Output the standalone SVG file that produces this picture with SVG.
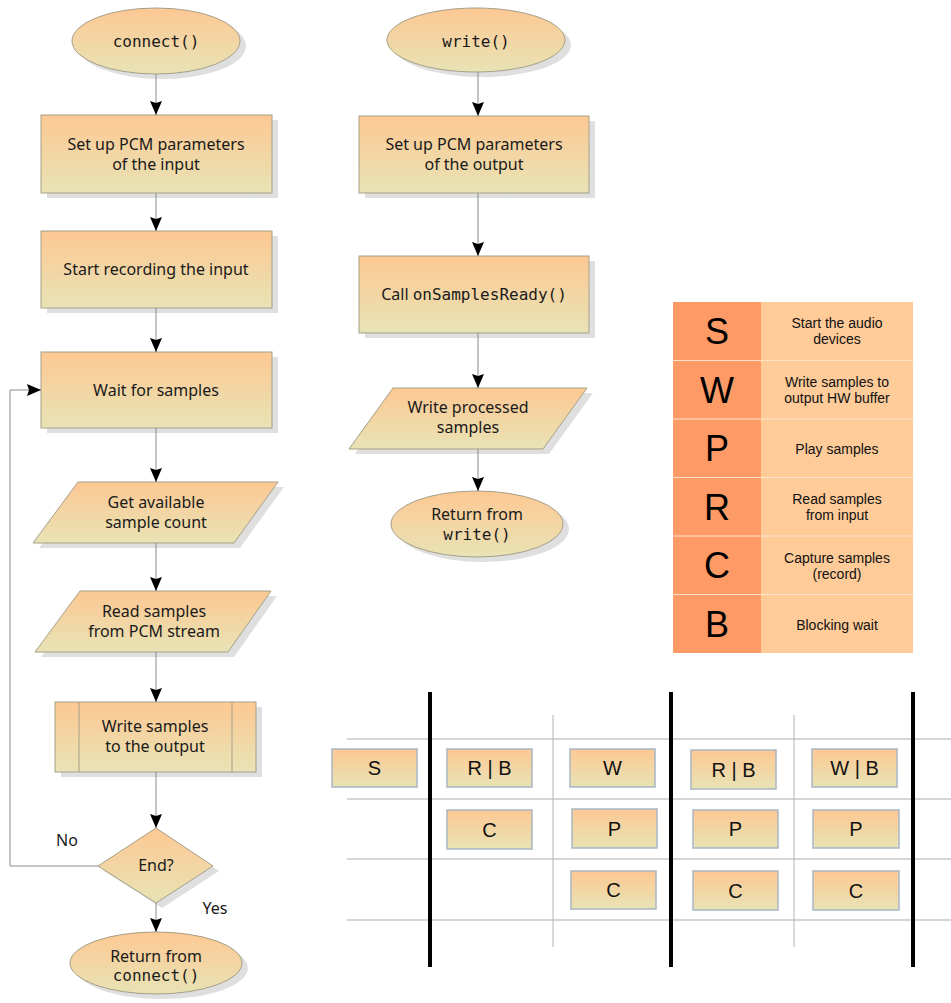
<svg xmlns="http://www.w3.org/2000/svg" width="951" height="1003" viewBox="0 0 951 1003">
  <defs>
    <linearGradient id="fill" x1="0" y1="0" x2="0" y2="1">
      <stop offset="0" stop-color="#fdc893"/>
      <stop offset="1" stop-color="#e8e3b5"/>
    </linearGradient>
    <marker id="arrow" viewBox="0 0 14 12" refX="14" refY="6" markerWidth="14" markerHeight="12" markerUnits="userSpaceOnUse" orient="auto">
      <path d="M0,0 L14,6 L0,12 L2,6 Z" fill="#000"/>
    </marker>
    <style>
      .shape { fill: url(#fill); stroke: #a59f88; stroke-width: 1; }
      .shadow { fill: #d4d4d4; opacity: 0.75; }
      .link { fill: none; stroke: #8a8a8a; stroke-width: 1; marker-end: url(#arrow); }
      .lbl { font-family: "Noto Sans", "Open Sans", sans-serif; font-size: 16px; fill: #1a1a1a; text-anchor: middle; }
      .mono { font-family: "DejaVu Sans Mono", "Liberation Mono", monospace; font-size: 16px; }
      .big { font-family: "Liberation Sans", Arial, sans-serif; font-size: 36px; fill: #000; text-anchor: middle; }
      .desc { font-family: "Liberation Sans", Arial, sans-serif; font-size: 14px; fill: #111; text-anchor: middle; }
      .slot { fill: url(#fill); stroke: #a9b6c4; stroke-width: 1.5; }
      .slotTxt { font-family: "Liberation Sans", Arial, sans-serif; font-size: 20px; fill: #111; text-anchor: middle; }
      .bar { stroke: #000; stroke-width: 4; }
      .grid { stroke: #c8c8c8; stroke-width: 1.5; }
      .vgrid { stroke: #b4b4b4; stroke-width: 1; }
    </style>
  </defs>

  <!-- connect() flow -->
  <g id="connect-start">
    <ellipse class="shadow" cx="162" cy="46" rx="84" ry="33"/>
    <ellipse class="shape" cx="156" cy="41" rx="84" ry="33"/>
    <text class="lbl mono" x="156" y="47">connect()</text>
  </g>
  <g id="setup-input">
    <rect class="shadow" x="47" y="120" width="231" height="78"/>
    <rect class="shape" x="41" y="115" width="231" height="78"/>
    <text class="lbl" x="156" y="150">Set up PCM parameters</text>
    <text class="lbl" x="156" y="170">of the input</text>
  </g>
  <g id="start-recording">
    <rect class="shadow" x="47" y="236" width="231" height="77"/>
    <rect class="shape" x="41" y="231" width="231" height="77"/>
    <text class="lbl" x="156" y="275">Start recording the input</text>
  </g>
  <g id="wait-samples">
    <rect class="shadow" x="47" y="357" width="231" height="76"/>
    <rect class="shape" x="41" y="352" width="231" height="76"/>
    <text class="lbl" x="156" y="396">Wait for samples</text>
  </g>
  <g id="get-count">
    <polygon class="shadow" points="84,487 284,487 240,548 39,548"/>
    <polygon class="shape" points="78,482 278,482 234,543 33,543"/>
    <text class="lbl" x="156" y="508">Get available</text>
    <text class="lbl" x="156" y="528">sample count</text>
  </g>
  <g id="read-pcm">
    <polygon class="shadow" points="86,596 277,596 234,657 41,657"/>
    <polygon class="shape" points="80,591 271,591 228,652 35,652"/>
    <text class="lbl" x="154" y="617">Read samples</text>
    <text class="lbl" x="154" y="637">from PCM stream</text>
  </g>
  <g id="write-output">
    <rect class="shadow" x="61" y="707" width="201" height="70"/>
    <rect class="shape" x="55" y="702" width="201" height="70"/>
    <line x1="79" y1="702" x2="79" y2="772" stroke="#a59f88" stroke-width="1"/>
    <line x1="232" y1="702" x2="232" y2="772" stroke="#a59f88" stroke-width="1"/>
    <text class="lbl" x="155" y="732">Write samples</text>
    <text class="lbl" x="155" y="752">to the output</text>
  </g>
  <g id="end-check">
    <polygon class="shadow" points="104,871 162,833 219,871 162,908"/>
    <polygon class="shape" points="98,866 156,828 213,866 156,903"/>
    <text class="lbl" x="156" y="871">End?</text>
  </g>
  <g id="connect-return">
    <ellipse class="shadow" cx="162" cy="968" rx="86" ry="31"/>
    <ellipse class="shape" cx="156" cy="963" rx="86" ry="31"/>
    <text class="lbl" x="156" y="962">Return from</text>
    <text class="lbl mono" x="156" y="981">connect()</text>
  </g>

  <!-- write() flow -->
  <g id="write-start">
    <ellipse class="shadow" cx="482" cy="45" rx="89" ry="32"/>
    <ellipse class="shape" cx="476" cy="40" rx="89" ry="32"/>
    <text class="lbl mono" x="476" y="47">write()</text>
  </g>
  <g id="setup-output">
    <rect class="shadow" x="365" y="121" width="230" height="77"/>
    <rect class="shape" x="359" y="116" width="230" height="77"/>
    <text class="lbl" x="474" y="150">Set up PCM parameters</text>
    <text class="lbl" x="474" y="170">of the output</text>
  </g>
  <g id="call-ready">
    <rect class="shadow" x="365" y="261" width="230" height="77"/>
    <rect class="shape" x="359" y="256" width="230" height="77"/>
    <text class="lbl" x="474" y="300">Call <tspan class="mono">onSamplesReady()</tspan></text>
  </g>
  <g id="write-processed">
    <polygon class="shadow" points="399,393 593,393 549,454 355,454"/>
    <polygon class="shape" points="393,388 587,388 543,449 349,449"/>
    <text class="lbl" x="468" y="413">Write processed</text>
    <text class="lbl" x="468" y="433">samples</text>
  </g>
  <g id="write-return">
    <ellipse class="shadow" cx="483" cy="529" rx="86" ry="33"/>
    <ellipse class="shape" cx="477" cy="524" rx="86" ry="33"/>
    <text class="lbl" x="477" y="520">Return from</text>
    <text class="lbl mono" x="477" y="540">write()</text>
  </g>

  <g id="connectors">
    <line class="link" x1="156" y1="74" x2="156" y2="115"/>
    <line class="link" x1="156" y1="193" x2="156" y2="231"/>
    <line class="link" x1="156" y1="308" x2="156" y2="352"/>
    <line class="link" x1="156" y1="428" x2="156" y2="482"/>
    <line class="link" x1="156" y1="543" x2="156" y2="591"/>
    <line class="link" x1="156" y1="652" x2="156" y2="702"/>
    <line class="link" x1="156" y1="772" x2="156" y2="828"/>
    <line class="link" x1="156" y1="903" x2="156" y2="932"/>
    <path class="link" d="M98,866 H10 V390 H41"/>
    <line class="link" x1="478" y1="72" x2="478" y2="116"/>
    <line class="link" x1="478" y1="193" x2="478" y2="256"/>
    <line class="link" x1="478" y1="333" x2="478" y2="388"/>
    <line class="link" x1="478" y1="449" x2="478" y2="491"/>
    <text class="lbl" x="67" y="846">No</text>
    <text class="lbl" x="215" y="914">Yes</text>
  </g>

  <!-- legend -->
  <g id="legend">
    <rect x="673" y="302" width="88" height="351" fill="#fe9a66"/>
    <rect x="761" y="302" width="152" height="351" fill="#fecb99"/>
    <g stroke="#ffe3c8" stroke-width="1">
      <line x1="673" y1="360.5" x2="913" y2="360.5"/>
      <line x1="673" y1="419" x2="913" y2="419"/>
      <line x1="673" y1="477.5" x2="913" y2="477.5"/>
      <line x1="673" y1="536" x2="913" y2="536"/>
      <line x1="673" y1="594.5" x2="913" y2="594.5"/>
    </g>
    <text class="big" x="717" y="344">S</text>
    <text class="big" x="717" y="403">W</text>
    <text class="big" x="717" y="461">P</text>
    <text class="big" x="717" y="520">R</text>
    <text class="big" x="717" y="578">C</text>
    <text class="big" x="717" y="637">B</text>
    <text class="desc" x="837" y="328">Start the audio</text>
    <text class="desc" x="837" y="344">devices</text>
    <text class="desc" x="837" y="387">Write samples to</text>
    <text class="desc" x="837" y="403">output HW buffer</text>
    <text class="desc" x="837" y="454">Play samples</text>
    <text class="desc" x="837" y="504">Read samples</text>
    <text class="desc" x="837" y="520">from input</text>
    <text class="desc" x="837" y="563">Capture samples</text>
    <text class="desc" x="837" y="579">(record)</text>
    <text class="desc" x="837" y="630">Blocking wait</text>
  </g>

  <!-- timeline grid -->
  <g id="timeline-grid">
    <line class="grid" x1="347" y1="739" x2="951" y2="739"/>
    <line class="grid" x1="347" y1="799" x2="951" y2="799"/>
    <line class="grid" x1="347" y1="859" x2="951" y2="859"/>
    <line class="grid" x1="347" y1="920" x2="951" y2="920"/>
    <line class="vgrid" x1="553" y1="715" x2="553" y2="947"/>
    <line class="vgrid" x1="794" y1="715" x2="794" y2="947"/>
    <line class="bar" x1="430" y1="692" x2="430" y2="967"/>
    <line class="bar" x1="671" y1="692" x2="671" y2="967"/>
    <line class="bar" x1="913" y1="692" x2="913" y2="967"/>
  </g>

  <g id="slot-s"><rect class="slot" x="332" y="749" width="85" height="38"/><text class="slotTxt" x="374.5" y="775">S</text></g>
  <g id="slot-rb1"><rect class="slot" x="447" y="749" width="85" height="38"/><text class="slotTxt" x="489.5" y="775">R | B</text></g>
  <g id="slot-c1"><rect class="slot" x="447" y="810" width="85" height="39"/><text class="slotTxt" x="489.5" y="837">C</text></g>
  <g id="slot-w2"><rect class="slot" x="570" y="749" width="85" height="38"/><text class="slotTxt" x="612.5" y="775">W</text></g>
  <g id="slot-p2"><rect class="slot" x="572" y="809" width="85" height="39"/><text class="slotTxt" x="614.5" y="836">P</text></g>
  <g id="slot-c2"><rect class="slot" x="571" y="871" width="85" height="38"/><text class="slotTxt" x="613.5" y="897">C</text></g>
  <g id="slot-rb3"><rect class="slot" x="691" y="750" width="85" height="39"/><text class="slotTxt" x="733.5" y="777">R | B</text></g>
  <g id="slot-p3"><rect class="slot" x="693" y="810" width="85" height="38"/><text class="slotTxt" x="735.5" y="836">P</text></g>
  <g id="slot-c3"><rect class="slot" x="693" y="871" width="85" height="39"/><text class="slotTxt" x="735.5" y="898">C</text></g>
  <g id="slot-wb4"><rect class="slot" x="812" y="749" width="85" height="38"/><text class="slotTxt" x="854.5" y="775">W | B</text></g>
  <g id="slot-p4"><rect class="slot" x="813" y="810" width="86" height="38"/><text class="slotTxt" x="856" y="836">P</text></g>
  <g id="slot-c4"><rect class="slot" x="813" y="871" width="86" height="39"/><text class="slotTxt" x="856" y="898">C</text></g>
</svg>
